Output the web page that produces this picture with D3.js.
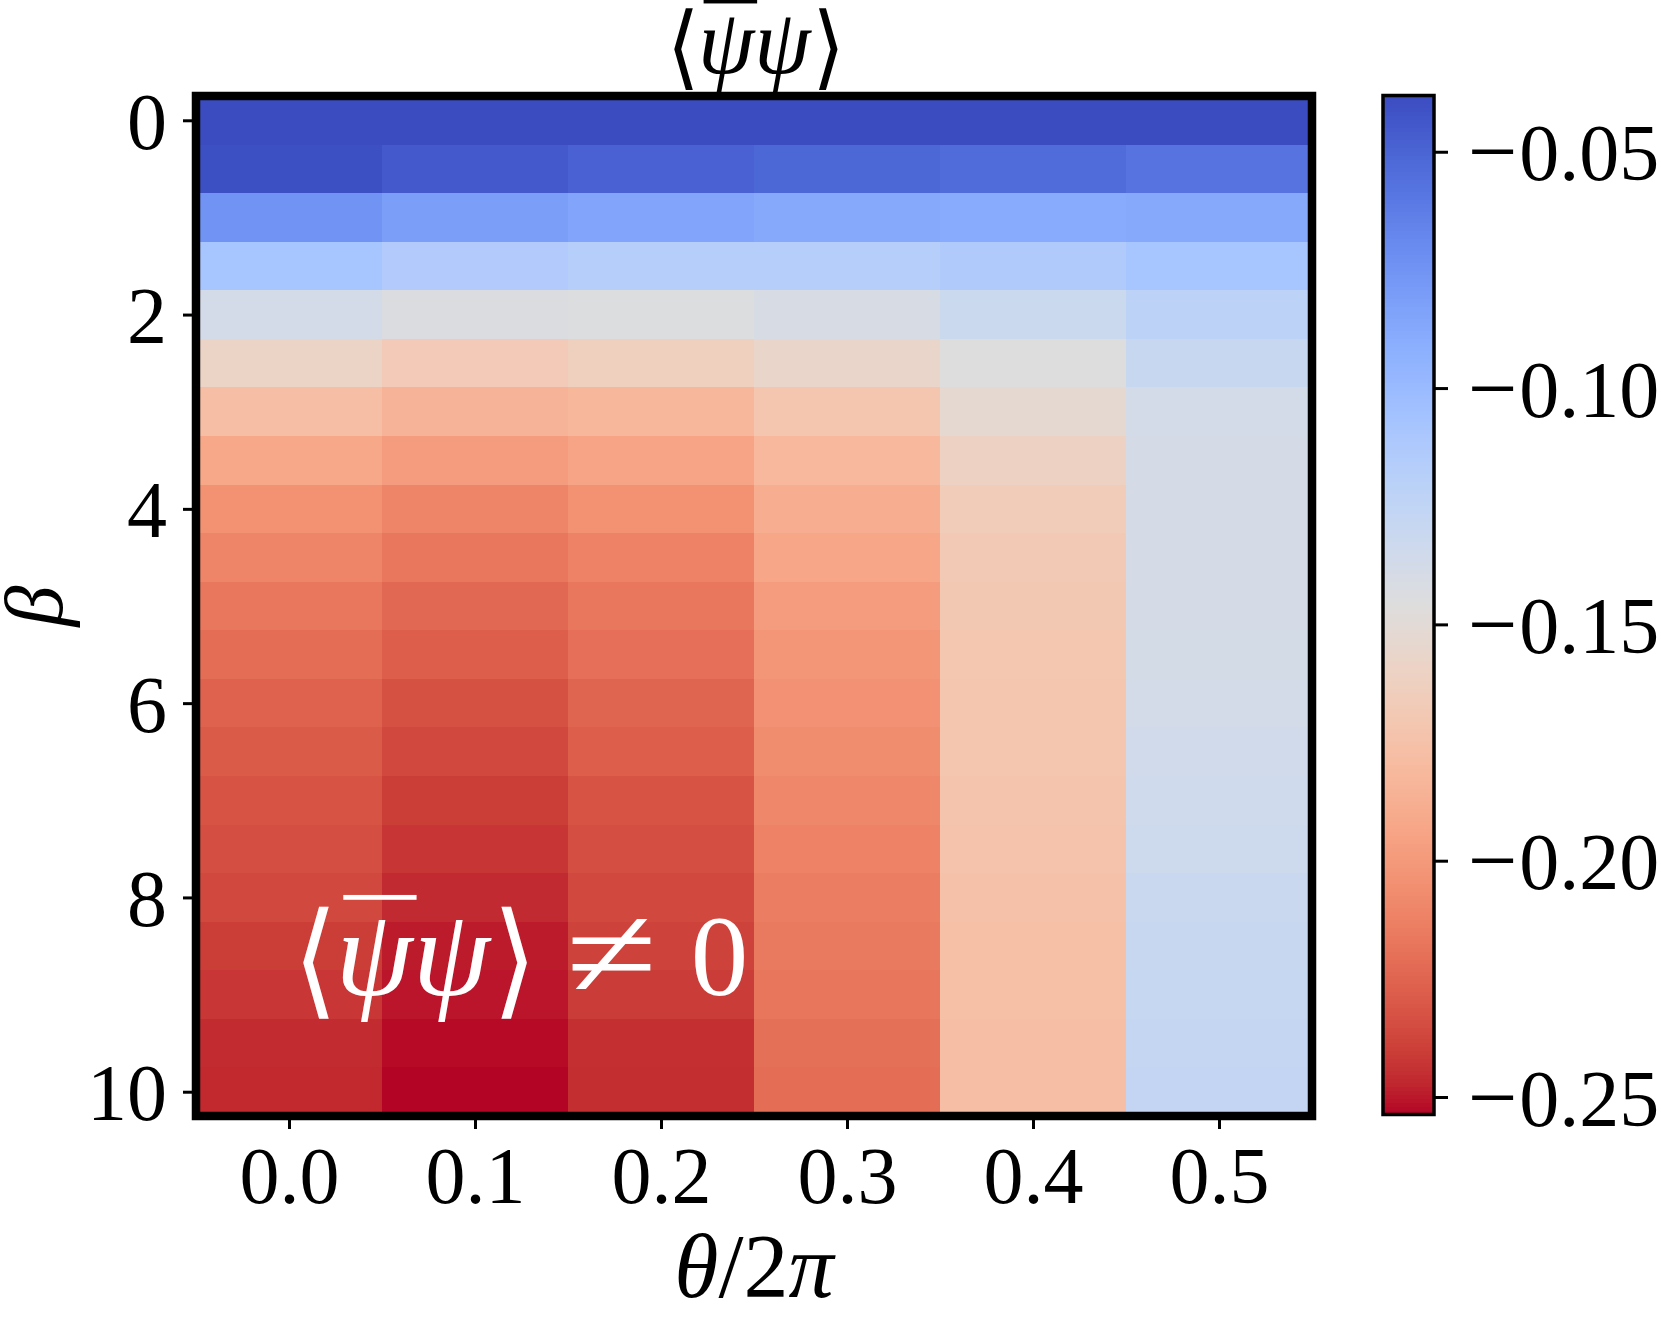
<!DOCTYPE html>
<html><head><meta charset="utf-8">
<script src="https://cdn.jsdelivr.net/npm/d3@7/dist/d3.min.js"></script>
<style>body{margin:0;background:#fff} svg{display:block}</style>
</head><body>
<svg id="chart" width="1661" height="1318"></svg>
<script>
// ---- data ----
const thetaValues = [0.0, 0.1, 0.2, 0.3, 0.4, 0.5];
const betaValues = [0, 0.5, 1, 1.5, 2, 2.5, 3, 3.5, 4, 4.5, 5, 5.5, 6, 6.5, 7, 7.5, 8, 8.5, 9, 9.5, 10];
// condensate <psibar psi>, one row per beta, one column per theta/2pi
const row00 = [-0.0381, -0.0381, -0.0381, -0.0381, -0.0381, -0.0381];
const row01 = [-0.0398, -0.0446, -0.0484, -0.0510, -0.0536, -0.0575];
const row02 = [-0.0748, -0.0812, -0.0851, -0.0877, -0.0888, -0.0877];
const row03 = [-0.1082, -0.1146, -0.1179, -0.1179, -0.1136, -0.1082];
const row04 = [-0.1373, -0.1437, -0.1448, -0.1405, -0.1319, -0.1222];
const row05 = [-0.1588, -0.1675, -0.1631, -0.1567, -0.1459, -0.1297];
const row06 = [-0.1772, -0.1847, -0.1825, -0.1718, -0.1524, -0.1373];
const row07 = [-0.1918, -0.1987, -0.1944, -0.1815, -0.1610, -0.1384];
const row08 = [-0.2041, -0.2106, -0.2041, -0.1890, -0.1664, -0.1388];
const row09 = [-0.2106, -0.2170, -0.2117, -0.1933, -0.1685, -0.1384];
const row10 = [-0.2170, -0.2235, -0.2170, -0.1987, -0.1696, -0.1384];
const row11 = [-0.2214, -0.2278, -0.2203, -0.2020, -0.1707, -0.1379];
const row12 = [-0.2261, -0.2332, -0.2246, -0.2045, -0.1718, -0.1377];
const row13 = [-0.2289, -0.2365, -0.2278, -0.2063, -0.1718, -0.1362];
const row14 = [-0.2321, -0.2403, -0.2321, -0.2095, -0.1729, -0.1345];
const row15 = [-0.2343, -0.2429, -0.2343, -0.2117, -0.1739, -0.1330];
const row16 = [-0.2365, -0.2462, -0.2365, -0.2138, -0.1750, -0.1308];
const row17 = [-0.2401, -0.2494, -0.2386, -0.2160, -0.1761, -0.1297];
const row18 = [-0.2423, -0.2505, -0.2408, -0.2175, -0.1761, -0.1287];
const row19 = [-0.2457, -0.2526, -0.2447, -0.2199, -0.1772, -0.1276];
const row20 = [-0.2466, -0.2537, -0.2451, -0.2214, -0.1772, -0.1265];
const valueRows = [row00,row01,row02,row03,row04,row05,row06,row07,row08,row09,row10,
                   row11,row12,row13,row14,row15,row16,row17,row18,row19,row20];

const xTicks = [0.0, 0.1, 0.2, 0.3, 0.4, 0.5];
const xTickLabels = ["0.0", "0.1", "0.2", "0.3", "0.4", "0.5"];
const yTicks = [0, 2, 4, 6, 8, 10];
const yTickLabels = ["0", "2", "4", "6", "8", "10"];
const cbTicks = [-0.05, -0.10, -0.15, -0.20, -0.25];
const cbTickLabels = ["0.05", "0.10", "0.15", "0.20", "0.25"]; // shown with a leading minus sign

// matplotlib coolwarm stops
const coolwarmStops = [
 [59,76,192],[68,90,204],[77,104,215],[87,117,225],[98,130,234],[108,142,241],[119,154,247],
 [130,165,251],[141,176,254],[152,185,255],[163,194,255],[174,201,253],[184,208,249],[194,213,244],
 [204,217,238],[213,219,230],[221,221,221],[229,216,209],[236,211,197],[241,204,185],[245,196,173],
 [247,187,160],[247,177,148],[247,166,135],[244,154,123],[241,141,111],[236,127,99],[229,112,88],
 [222,96,77],[213,80,66],[203,62,56],[192,40,47],[180,4,38]];

// ---- layout ----
const svg = d3.select("#chart");
const serif = "'Liberation Serif','DejaVu Serif',serif";
const plot = {left: 196, right: 1312, top: 96, bottom: 1116};
const cb = {left: 1383, right: 1434, top: 95.5, bottom: 1114.5};
const tickFont = 80;

const vmin = d3.min(valueRows.flat()), vmax = d3.max(valueRows.flat());

const x = d3.scaleLinear().domain([-0.05, 0.55]).range([plot.left, plot.right]);
const y = d3.scaleLinear().domain([-0.25, 10.25]).range([plot.top, plot.bottom]);
const cw = d3.scaleLinear()
  .domain(coolwarmStops.map((d, i) => i / (coolwarmStops.length - 1)))
  .range(coolwarmStops.map(d => d3.rgb(d[0], d[1], d[2])))
  .interpolate(d3.interpolateRgb);
const color = v => cw((vmax - v) / (vmax - vmin)); // reversed coolwarm

// ---- heatmap cells ----
const cells = [];
valueRows.forEach((row, i) => row.forEach((v, j) => cells.push({beta: betaValues[i], theta: thetaValues[j], v})));
svg.append("g").attr("shape-rendering", "crispEdges")
  .selectAll("rect").data(cells).join("rect")
  .attr("x", d => x(d.theta - 0.05))
  .attr("y", d => y(d.beta - 0.25))
  .attr("width", d => x(d.theta + 0.05) - x(d.theta - 0.05) + 0.5)
  .attr("height", d => y(d.beta + 0.25) - y(d.beta - 0.25) + 0.5)
  .attr("fill", d => color(d.v));

// ---- axes ----
const xAxis = d3.axisBottom(x).tickValues(xTicks).tickFormat((d, i) => xTickLabels[i]).tickSize(13).tickPadding(0);
const gx = svg.append("g").attr("transform", `translate(0,${plot.bottom})`).call(xAxis);
gx.select(".domain").remove();
gx.selectAll(".tick line").attr("stroke", "#000").attr("stroke-width", 3);
gx.selectAll(".tick text").attr("font-family", serif).attr("font-size", tickFont).attr("fill", "#000")
  .attr("dy", null).attr("y", 87);

const yAxis = d3.axisLeft(y).tickValues(yTicks).tickFormat((d, i) => yTickLabels[i]).tickSize(13).tickPadding(0);
const gy = svg.append("g").attr("transform", `translate(${plot.left},0)`).call(yAxis);
gy.select(".domain").remove();
gy.selectAll(".tick line").attr("stroke", "#000").attr("stroke-width", 3);
gy.selectAll(".tick text").attr("font-family", serif).attr("font-size", tickFont).attr("fill", "#000")
  .attr("x", -29).attr("dy", null).attr("y", 28);

// frame
svg.append("rect").attr("x", plot.left).attr("y", plot.top)
  .attr("width", plot.right - plot.left).attr("height", plot.bottom - plot.top)
  .attr("fill", "none").attr("stroke", "#000").attr("stroke-width", 8.5);

// axis labels
svg.append("text").attr("x", (plot.left + plot.right) / 2).attr("y", 1297)
  .attr("text-anchor", "middle").attr("font-family", serif).attr("font-size", 90)
  .html('<tspan font-style="italic">θ</tspan>/2<tspan font-style="italic">π</tspan>');
svg.append("text").attr("transform", `translate(62,${(plot.top + plot.bottom) / 2}) rotate(-90)`)
  .attr("text-anchor", "middle").attr("font-family", serif).attr("font-size", 82)
  .attr("font-style", "italic").text("β");

// ---- colorbar ----
const cy = d3.scaleLinear().domain([vmin, vmax]).range([cb.bottom, cb.top]);
const nSteps = 256;
const steps = d3.range(nSteps).map(k => vmin + (vmax - vmin) * k / nSteps);
const dv = (vmax - vmin) / nSteps;
svg.append("g").attr("shape-rendering", "crispEdges")
  .selectAll("rect").data(steps).join("rect")
  .attr("x", cb.left).attr("width", cb.right - cb.left)
  .attr("y", d => cy(d + dv)).attr("height", d => cy(d) - cy(d + dv) + 0.6)
  .attr("fill", d => color(d + dv / 2));
svg.append("rect").attr("x", cb.left).attr("y", cb.top)
  .attr("width", cb.right - cb.left).attr("height", cb.bottom - cb.top)
  .attr("fill", "none").attr("stroke", "#000").attr("stroke-width", 3.5);
const cAxis = d3.axisRight(cy).tickValues(cbTicks).tickFormat(() => "").tickSize(14).tickPadding(0);
const gc = svg.append("g").attr("transform", `translate(${cb.right},0)`).call(cAxis);
gc.select(".domain").remove();
gc.selectAll(".tick line").attr("stroke", "#000").attr("stroke-width", 3);
gc.selectAll(".tick text").each(function(d, i) {
  const t = d3.select(this).attr("font-family", serif).attr("font-size", tickFont).attr("fill", "#000")
    .attr("x", 34).attr("dy", null).attr("y", 28).attr("text-anchor", "start");
  t.append("tspan").attr("font-size", tickFont * 1.1).attr("dy", 0.015 * tickFont).text("\u2212");
  t.append("tspan").attr("dx", 0.02 * tickFont).attr("dy", -0.015 * tickFont).text(cbTickLabels[i]);
});

// ---- ink measurement (canvas) for stretching the angle brackets ----
const mctx = document.createElement("canvas").getContext("2d");
function inkBox(ch, family, style) {
  mctx.font = `${style || "normal"} 100px ${family}`;
  const m = mctx.measureText(ch);
  return {a: m.actualBoundingBoxAscent / 100, d: m.actualBoundingBoxDescent / 100};
}

// ---- math row helper ----
function mathRow(g, x0, baseline, size, fill, anchor, pieces) {
  const grp = g.append("g");
  let cursor = 0;
  const placed = [];
  pieces.forEach(p => {
    cursor += (p.gap || 0) * size;
    const fs = size * (p.scale || 1);
    const t = grp.append("text").attr("font-family", p.family || serif)
      .attr("font-size", fs).attr("fill", fill)
      .attr("font-style", p.italic ? "italic" : null).text(p.t);
    let sx = p.sx || 1, sy = p.sy || 1, dy = p.dy || 0;
    if (p.fit) { // stretch glyph ink to [baseline - top, baseline + bottom] (em)
      const ib = inkBox(p.t, p.family || serif, p.italic ? "italic" : "normal");
      sy = (p.fit[0] + p.fit[1]) / ((ib.a + ib.d) * (p.scale || 1));
      dy = p.fit[1] - ib.d * (p.scale || 1) * sy;
    }
    const w = t.node().getComputedTextLength() * sx;
    placed.push({t, x: cursor, w, p, sx, sy, dy});
    cursor += w;
  });
  const shift = anchor === "middle" ? -cursor / 2 : 0;
  placed.forEach(o => {
    o.t.attr("transform", `translate(${x0 + o.x + shift},${baseline + o.dy * size}) scale(${o.sx},${o.sy})`);
    if (o.p.bar) {
      grp.append("rect").attr("x", x0 + o.x + shift + o.w * 0.1).attr("width", o.w * 0.95)
        .attr("y", baseline - size * 0.87).attr("height", size * 0.042).attr("fill", fill);
    }
  });
  return grp;
}
const bracketFont = "'DejaVu Serif'";
const psiPieces = [
  {t: "\u27E8", family: bracketFont, fit: [0.77, 0.215]},
  {t: "ψ", italic: true, gap: -0.02, scale: 1.08, bar: true},
  {t: "ψ", italic: true, scale: 1.08},
  {t: "\u27E9", family: bracketFont, fit: [0.77, 0.215], gap: 0.02}
];
mathRow(svg, (plot.left + plot.right) / 2 + 2, 73, 84, "#000", "middle", psiPieces);
mathRow(svg, 293, 995, 115, "#fff", "start", psiPieces.concat([
  {t: "\u2260", family: "'Liberation Serif'", gap: 0.25, sx: 1.45, sy: 1.15, dy: 0.03},
  {t: "0", gap: 0.29}
]));
</script>
</body></html>
